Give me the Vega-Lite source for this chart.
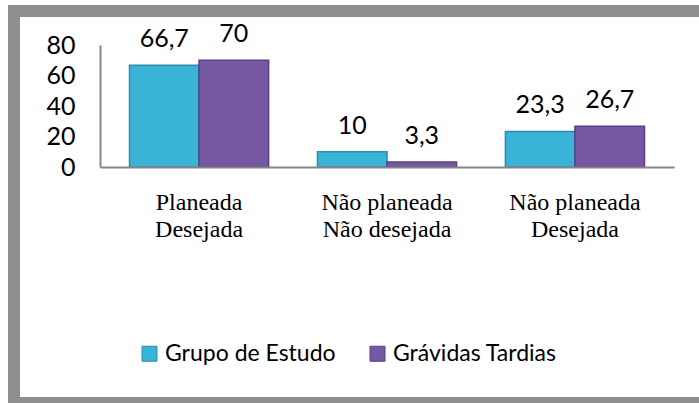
{
  "$schema": "https://vega.github.io/schema/vega-lite/v6.json",
  "width": 695,
  "height": 392,
  "autosize": {"type": "none"},
  "padding": {"left": 14, "top": 11, "right": -10, "bottom": 0},
  "background": "white",
  "config": {
    "view": {"fill": "white", "stroke": "#8f8f8f", "strokeWidth": 12},
    "locale": {"number": {"decimal": ",", "thousands": ".", "grouping": [3], "currency": ["", " €"]}},
    "font": "Lato"
  },
  "data": {
    "values": [
      {"categoria": "Planeada\nDesejada", "grupo": "Grupo de Estudo", "valor": 66.7},
      {"categoria": "Planeada\nDesejada", "grupo": "Grávidas Tardias", "valor": 70},
      {"categoria": "Não planeada\nNão desejada", "grupo": "Grupo de Estudo", "valor": 10},
      {"categoria": "Não planeada\nNão desejada", "grupo": "Grávidas Tardias", "valor": 3.3},
      {"categoria": "Não planeada\nDesejada", "grupo": "Grupo de Estudo", "valor": 23.3},
      {"categoria": "Não planeada\nDesejada", "grupo": "Grávidas Tardias", "valor": 26.7}
    ]
  },
  "encoding": {
    "x": {
      "field": "categoria", "type": "nominal", "sort": null,
      "scale": {"range": [86, 660], "paddingInner": 0.26, "paddingOuter": 0.157},
      "axis": {
        "orient": "bottom", "offset": -236, "ticks": false, "domainColor": "#868686", "domainWidth": 2,
        "labelFont": "Liberation Serif", "labelFontSize": 24, "labelColor": "black", "labelPadding": 23,
        "labelLineHeight": 27, "labelAngle": 0, "title": null, "zindex": 1, "labelLimit": 0,
        "labelExpr": "split(datum.label, '\\n')"
      }
    },
    "xOffset": {"field": "grupo", "type": "nominal", "sort": ["Grupo de Estudo", "Grávidas Tardias"], "scale": {"paddingInner": 0}},
    "y": {
      "field": "valor", "type": "quantitative",
      "scale": {"domain": [0, 80], "range": [156, 34], "nice": false},
      "axis": {
        "orient": "left", "offset": -86, "values": [0, 20, 40, 60, 80], "ticks": false, "grid": false,
        "domainColor": "#868686", "domainWidth": 2, "labelFont": "Lato", "labelFontSize": 25,
        "labelColor": "black", "labelPadding": 25, "title": null, "zindex": 1
      }
    }
  },
  "layer": [
    {
      "mark": {"type": "bar", "strokeWidth": 1.5},
      "encoding": {
        "color": {
          "field": "grupo", "type": "nominal",
          "scale": {"domain": ["Grupo de Estudo", "Grávidas Tardias"], "range": ["#3ab4d6", "#7658a2"]},
          "legend": {
            "orient": "none", "legendX": 124, "legendY": 331, "direction": "horizontal", "title": null,
            "symbolType": "square", "symbolSize": 225, "symbolStrokeWidth": 1, "labelFontSize": 23,
            "labelFont": "Lato", "labelColor": "black", "columnPadding": 30, "labelOffset": 4, "labelLimit": 0
          }
        },
        "stroke": {
          "field": "grupo", "type": "nominal",
          "scale": {"domain": ["Grupo de Estudo", "Grávidas Tardias"], "range": ["#2a8fac", "#5a3f82"]}
        }
      }
    },
    {
      "mark": {"type": "text", "dy": -18, "baseline": "alphabetic", "fontSize": 25, "font": "Lato", "color": "black"},
      "encoding": {"text": {"field": "valor", "type": "quantitative", "format": "~g"}}
    }
  ]
}
